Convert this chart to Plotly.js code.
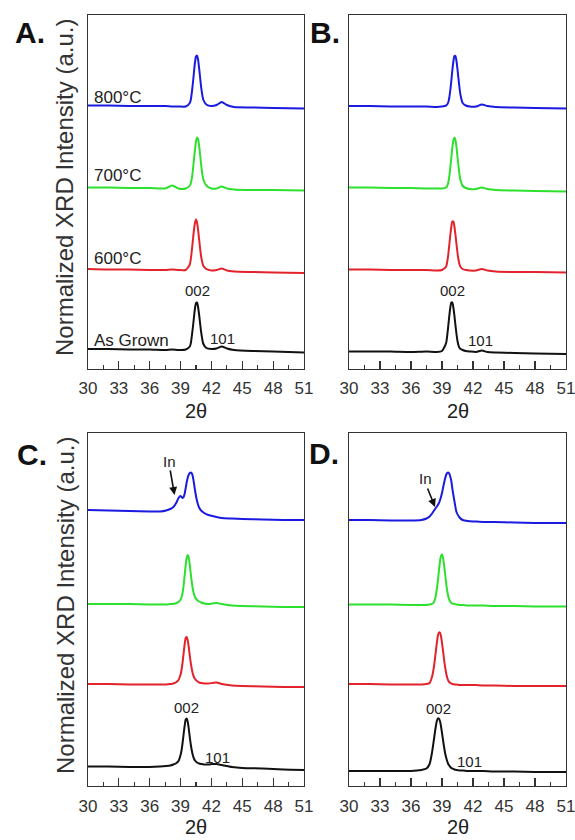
<!DOCTYPE html>
<html>
<head>
<meta charset="utf-8">
<script src="https://cdn.plot.ly/plotly-3.0.1.min.js"></script>
<style>html,body{margin:0;padding:0;background:#fff;}#chart{width:575px;height:840px;}</style>
</head>
<body>
<div id="chart"></div>
<script>
// ---------- data ----------
const xTicks = [30, 33, 36, 39, 42, 45, 48, 51];
const sampleNames = ["As Grown", "600°C", "700°C", "800°C"];
const seriesColors = ["#111111", "#e3232b", "#2ee02e", "#1a1ae0"];

// Panel A
const xA = [30,32,34,36,37.5,38.2,38.8,39.5,39.9,40.0,40.1,40.2,40.3,40.4,40.5,40.6,40.7,40.8,40.9,41.0,41.2,41.5,42.0,42.5,43.0,43.5,44.2,46,48,51];
const aBlack = [0.02,0.02,0.01,0.01,0.0,0.01,0.0,0.01,0.07,0.14,0.29,0.46,0.65,0.83,0.94,0.95,0.86,0.71,0.53,0.36,0.13,0.04,0.02,0.03,0.07,0.03,0.0,-0.02,-0.03,-0.05];
const aRed   = [1.62,1.61,1.61,1.60,1.60,1.61,1.60,1.60,1.71,1.83,2.00,2.20,2.40,2.54,2.61,2.55,2.41,2.22,2.03,1.87,1.69,1.62,1.59,1.60,1.63,1.59,1.57,1.56,1.55,1.54];
const aGreen = [3.25,3.25,3.24,3.24,3.23,3.29,3.23,3.23,3.29,3.34,3.44,3.60,3.81,4.01,4.17,4.25,4.22,4.09,3.91,3.71,3.42,3.29,3.23,3.23,3.27,3.23,3.21,3.20,3.20,3.19];
const aBlue  = [4.89,4.89,4.88,4.88,4.88,4.87,4.87,4.87,4.94,5.01,5.16,5.34,5.55,5.75,5.87,5.89,5.81,5.64,5.45,5.26,5.01,4.91,4.88,4.90,4.96,4.90,4.86,4.85,4.84,4.83];

// Panel B
const xB = [30,32,34,36,37.5,38.5,39.0,39.4,39.5,39.6,39.7,39.8,39.9,40.0,40.1,40.2,40.3,40.4,40.5,40.6,40.7,40.8,41.0,41.3,41.7,42.3,42.85,43.4,44.2,46,48,51];
const bBlack = [-0.03,-0.03,-0.03,-0.04,-0.03,-0.04,-0.02,0.14,0.28,0.47,0.67,0.84,0.95,0.95,0.85,0.69,0.50,0.32,0.18,0.09,0.04,0.02,0.0,-0.02,-0.03,-0.04,-0.01,-0.04,-0.05,-0.06,-0.07,-0.08];
const bRed   = [1.61,1.61,1.60,1.60,1.60,1.59,1.60,1.67,1.76,1.90,2.09,2.29,2.46,2.57,2.57,2.47,2.31,2.12,1.94,1.80,1.71,1.66,1.62,1.60,1.59,1.59,1.62,1.59,1.57,1.56,1.56,1.55];
const bGreen = [3.25,3.25,3.24,3.24,3.23,3.23,3.23,3.25,3.28,3.34,3.46,3.64,3.84,4.05,4.19,4.25,4.20,4.06,3.86,3.67,3.50,3.39,3.28,3.24,3.22,3.22,3.25,3.22,3.20,3.19,3.18,3.17];
const bBlue  = [4.88,4.88,4.87,4.87,4.87,4.86,4.87,4.89,4.91,4.95,5.04,5.19,5.38,5.59,5.77,5.88,5.88,5.78,5.61,5.42,5.23,5.09,4.94,4.89,4.87,4.87,4.91,4.88,4.86,4.85,4.84,4.83];

// Panel C
const xC = [30,32,34,36,37.0,37.6,38.0,38.3,38.6,38.8,39.0,39.1,39.2,39.3,39.4,39.5,39.6,39.7,39.8,39.9,40.0,40.1,40.2,40.3,40.4,40.6,40.8,41.0,41.3,41.7,42.1,42.5,43.0,44,45,47,49,51];
const cBlack = [-0.01,-0.01,-0.02,-0.02,-0.01,0.0,0.01,0.03,0.06,0.10,0.22,0.32,0.47,0.64,0.81,0.93,0.95,0.88,0.74,0.57,0.42,0.30,0.21,0.15,0.11,0.07,0.05,0.04,0.03,0.03,0.04,0.04,0.02,-0.02,-0.04,-0.05,-0.07,-0.08];
const cRed   = [1.64,1.64,1.63,1.63,1.63,1.63,1.64,1.65,1.68,1.72,1.83,1.93,2.08,2.26,2.44,2.56,2.58,2.51,2.37,2.20,2.05,1.93,1.84,1.78,1.74,1.70,1.67,1.66,1.65,1.65,1.66,1.67,1.64,1.61,1.60,1.59,1.58,1.58];
const cGreen = [3.24,3.24,3.24,3.23,3.23,3.23,3.24,3.24,3.26,3.28,3.33,3.38,3.47,3.62,3.82,4.02,4.17,4.22,4.16,4.01,3.83,3.66,3.53,3.44,3.38,3.32,3.29,3.27,3.25,3.24,3.25,3.26,3.24,3.21,3.20,3.19,3.18,3.18];
const cBlue  = [5.12,5.11,5.10,5.09,5.09,5.11,5.14,5.18,5.27,5.36,5.40,5.38,5.36,5.38,5.45,5.56,5.68,5.77,5.83,5.86,5.87,5.85,5.78,5.66,5.52,5.30,5.17,5.11,5.06,5.02,5.00,4.98,4.96,4.95,4.94,4.93,4.92,4.92];

// Panel D
const xD = [30,32,34,36,37.0,37.5,37.8,38.0,38.1,38.2,38.3,38.4,38.5,38.6,38.7,38.8,38.9,39.0,39.1,39.2,39.3,39.4,39.5,39.6,39.7,39.8,39.9,40.0,40.2,40.4,40.7,41.0,41.5,42.2,43,44,46,48,51];
const dBlack = [-0.10,-0.10,-0.10,-0.10,-0.08,-0.05,0.04,0.23,0.36,0.50,0.65,0.79,0.90,0.95,0.95,0.90,0.80,0.66,0.52,0.38,0.26,0.17,0.10,0.04,0.01,-0.02,-0.04,-0.05,-0.07,-0.08,-0.09,-0.09,-0.10,-0.10,-0.10,-0.11,-0.11,-0.12,-0.12];
const dRed   = [1.64,1.64,1.63,1.63,1.63,1.64,1.66,1.76,1.84,1.96,2.11,2.29,2.46,2.60,2.67,2.67,2.60,2.46,2.30,2.13,1.98,1.86,1.77,1.71,1.68,1.66,1.65,1.64,1.63,1.63,1.62,1.62,1.62,1.62,1.61,1.61,1.60,1.60,1.60];
const dGreen = [3.23,3.23,3.23,3.22,3.22,3.22,3.23,3.24,3.25,3.27,3.32,3.41,3.54,3.71,3.90,4.08,4.20,4.23,4.16,4.02,3.84,3.66,3.51,3.40,3.33,3.29,3.26,3.25,3.24,3.23,3.22,3.22,3.21,3.21,3.21,3.20,3.20,3.19,3.19];
const dBlue  = [4.92,4.92,4.91,4.91,4.92,4.95,4.99,5.04,5.07,5.10,5.13,5.16,5.19,5.22,5.26,5.31,5.38,5.46,5.56,5.66,5.75,5.82,5.86,5.87,5.85,5.79,5.70,5.55,5.30,5.08,4.97,4.92,4.90,4.89,4.88,4.88,4.87,4.86,4.86];

// ---------- build ----------
const FONT = "Liberation Sans, Arial, sans-serif";
const panels = [
  {x: xA, ys: [aBlack, aRed, aGreen, aBlue], xa: "x",  ya: "y"},
  {x: xB, ys: [bBlack, bRed, bGreen, bBlue], xa: "x2", ya: "y2"},
  {x: xC, ys: [cBlack, cRed, cGreen, cBlue], xa: "x3", ya: "y3"},
  {x: xD, ys: [dBlack, dRed, dGreen, dBlue], xa: "x4", ya: "y4"}
];
const traces = [];
panels.forEach(p => {
  p.ys.forEach((y, i) => {
    traces.push({
      type: "scatter", mode: "lines", x: p.x, y: y,
      xaxis: p.xa, yaxis: p.ya, name: sampleNames[i],
      line: {color: seriesColors[i], width: 2, shape: "spline", smoothing: 0.6},
      hoverinfo: "skip"
    });
  });
});

const W = 575, H = 840;
const px = v => v / W, py = v => 1 - v / H;
const frame = "#333333";

function xAxis(dom, anchor) {
  return {
    domain: dom, anchor: anchor, range: [30, 51],
    tickmode: "array", tickvals: xTicks, ticktext: xTicks.map(String),
    ticks: "inside", ticklen: 8, tickwidth: 1.2, tickcolor: frame,
    minor: {tickmode: "linear", tick0: 30, dtick: 1.5, ticks: "inside", ticklen: 4, tickwidth: 1.2, tickcolor: frame},
    showline: true, mirror: true, linecolor: frame, linewidth: 1.3,
    showgrid: false, zeroline: false, ticklabeloverflow: "allow",
    tickfont: {family: FONT, size: 17, color: "#333"}, ticklabelstandoff: 4
  };
}
function yAxis(dom, anchor, rng) {
  return {
    domain: dom, anchor: anchor, range: rng,
    showticklabels: false, ticks: "",
    showline: true, mirror: true, linecolor: frame, linewidth: 1.3,
    showgrid: false, zeroline: false
  };
}
const topDom = [py(368.5), py(15)], botDom = [py(786), py(433)];
const leftDom = [px(88), px(304)], rightDom = [px(349), px(566)];
const topRange = [-0.37, 6.70], botRange = [-0.40, 6.66];

function txt(t, x, y, size, opts) {
  return Object.assign({
    xref: "paper", yref: "paper", x: px(x), y: py(y), text: t, showarrow: false,
    xanchor: "center", yanchor: "middle",
    font: {family: FONT, size: size, color: "#222"}
  }, opts || {});
}

const annotations = [
  txt("<b>A.</b>", 30, 33, 30, {font: {family: FONT, size: 30, color: "#111"}}),
  txt("<b>B.</b>", 325, 33, 30, {font: {family: FONT, size: 30, color: "#111"}}),
  txt("<b>C.</b>", 32, 454, 30, {font: {family: FONT, size: 30, color: "#111"}}),
  txt("<b>D.</b>", 324, 453, 30, {font: {family: FONT, size: 30, color: "#111"}}),
  txt("Normalized XRD Intensity (a.u.)", 65, 188, 24, {textangle: -90, font: {family: FONT, size: 24, color: "#333"}}),
  txt("Normalized XRD Intensity (a.u.)", 65, 606, 24, {textangle: -90, font: {family: FONT, size: 24, color: "#333"}}),
  txt("2θ", 196, 411, 20),
  txt("2θ", 458, 411, 20),
  txt("2θ", 196, 827, 20),
  txt("2θ", 458, 827, 20),
  txt(sampleNames[3], 92, 97, 17, {xanchor: "left"}),
  txt(sampleNames[2], 92, 175, 17, {xanchor: "left"}),
  txt(sampleNames[1], 92, 258, 17, {xanchor: "left"}),
  txt(sampleNames[0], 92, 340, 17, {xanchor: "left"}),
  txt("002", 197, 290, 15),
  txt("101", 222, 338, 15),
  txt("002", 452, 290, 15),
  txt("101", 480, 340, 15),
  txt("002", 186, 707, 15),
  txt("101", 217, 757, 15),
  txt("002", 438, 708, 15),
  txt("101", 469, 761, 15),
  txt("In", 169, 461, 15),
  txt("In", 425, 478, 15),
  {xref: "paper", yref: "paper", x: px(174.5), y: py(495), ax: -4.5, ay: -26, axref: "pixel", ayref: "pixel",
   text: "", showarrow: true, arrowhead: 2, arrowsize: 1, arrowwidth: 1.6, arrowcolor: "#111", standoff: 0},
  {xref: "paper", yref: "paper", x: px(435), y: py(507), ax: -8, ay: -20, axref: "pixel", ayref: "pixel",
   text: "", showarrow: true, arrowhead: 2, arrowsize: 1, arrowwidth: 1.6, arrowcolor: "#111", standoff: 0}
];

const layout = {
  width: W, height: H, margin: {l: 0, r: 0, t: 0, b: 0},
  paper_bgcolor: "#fff", plot_bgcolor: "#fff", showlegend: false,
  xaxis: xAxis(leftDom, "y"), yaxis: yAxis(topDom, "x", topRange),
  xaxis2: xAxis(rightDom, "y2"), yaxis2: yAxis(topDom, "x2", topRange),
  xaxis3: xAxis(leftDom, "y3"), yaxis3: yAxis(botDom, "x3", botRange),
  xaxis4: xAxis(rightDom, "y4"), yaxis4: yAxis(botDom, "x4", botRange),
  annotations: annotations,
  font: {family: FONT}
};

Plotly.newPlot("chart", traces, layout, {staticPlot: true, displayModeBar: false});
</script>
</body>
</html>
